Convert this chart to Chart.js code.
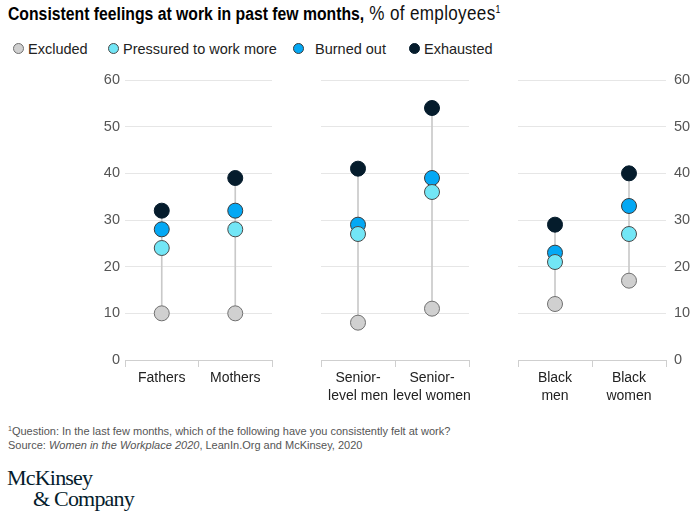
<!DOCTYPE html>
<html>
<head>
<meta charset="utf-8">
<script src="https://cdn.jsdelivr.net/npm/chart.js@4/dist/chart.umd.min.js"></script>
<style>
  html, body { margin: 0; padding: 0; background: #fff; }
  body { width: 700px; height: 517px; position: relative; overflow: hidden; font-family: "Liberation Sans", Arial, sans-serif; }
  #title { position: absolute; left: 8px; top: 2px; font-size: 18px; color: #000; white-space: nowrap; transform: scaleX(0.875); transform-origin: left center; }
  #title b { font-weight: bold; }
  #title .reg { font-size: 19.5px; letter-spacing: 0.4px; color: #111; }
  #title sup { font-size: 10px; vertical-align: 7px; line-height: 0; }
  #legend { position: absolute; left: 0; top: 39px; height: 20px; width: 700px; font-size: 14.5px; color: #222; }
  .li { position: absolute; top: 0; white-space: nowrap; line-height: 20px; }
  .dot { position: absolute; width: 11px; height: 11px; border-radius: 50%; top: 4px; box-sizing: border-box; border: 1px solid #555; }
  .chartbox { position: absolute; top: 60px; height: 350px; }
  #foot { position: absolute; left: 8px; top: 424px; font-size: 11px; color: #555; line-height: 14px; white-space: nowrap; }
  #foot sup { font-size: 7px; vertical-align: 4px; line-height: 0; }
  #logo { position: absolute; left: 7px; top: 467px; font-family: "Liberation Serif", "DejaVu Serif", serif; color: #051c2c; font-size: 22px; line-height: 21px; letter-spacing: -0.8px; }
</style>
</head>
<body>
<div id="title"><b>Consistent feelings at work in past few months,</b><span class="reg"> % of employees</span><sup>1</sup></div>
<div id="legend"></div>
<div class="chartbox" style="left:70px;width:215px"><canvas id="c1"></canvas></div>
<div class="chartbox" style="left:310px;width:172px"><canvas id="c2"></canvas></div>
<div class="chartbox" style="left:505px;width:195px"><canvas id="c3"></canvas></div>
<div id="foot"><sup>1</sup>Question: In the last few months, which of the following have you consistently felt at work?<br>Source: <i>Women in the Workplace 2020</i>, LeanIn.Org and McKinsey, 2020</div>
<div id="logo">McKinsey<br><span style="padding-left:26px">&amp; Company</span></div>
<script>
// ---- Data ----
const seriesNames = ["Excluded", "Pressured to work more", "Burned out", "Exhausted"];
const panel1Labels = ["Fathers", "Mothers"];
const panel2Labels = [["Senior-", "level men"], ["Senior-", "level women"]];
const panel3Labels = [["Black", "men"], ["Black", "women"]];

const excluded1  = [10, 10];
const pressured1 = [24, 28];
const burned1    = [28, 32];
const exhausted1 = [32, 39];

const excluded2  = [8, 11];
const pressured2 = [27, 36];
const burned2    = [29, 39];
const exhausted2 = [41, 54];

const excluded3  = [12, 17];
const pressured3 = [21, 27];
const burned3    = [23, 33];
const exhausted3 = [29, 40];

const yTicks = [0, 10, 20, 30, 40, 50, 60];

// ---- Styles ----
const fills   = ["#d0d0d0", "#72e6f6", "#04a8f4", "#051c2c"];
const borders = ["#707070", "#4a4a4a", "#3a3a3a", "#051c2c"];
const drawOrder = [5, 3, 4, 2];

// Legend
const legendX = [13, 108, 293, 409];
const legend = document.getElementById('legend');
seriesNames.forEach((n, i) => {
  const d = document.createElement('div');
  d.className = 'li';
  d.style.left = legendX[i] + 'px';
  d.innerHTML = '<span class="dot" style="left:0;background:' + fills[i] + ';border-color:' + borders[i] + '"></span><span style="padding-left:' + (i === 2 ? 22 : 15) + 'px">' + n + '</span>';
  legend.appendChild(d);
});

function makeChart(id, labels, series, pos, pad) {
  const [exc, pre, bur, exh] = series;
  const datasets = [];
  datasets.push({
    type: 'bar',
    data: labels.map((_, i) => [Math.min(exc[i], pre[i], bur[i], exh[i]), Math.max(exc[i], pre[i], bur[i], exh[i])]),
    backgroundColor: '#c9c9c9',
    borderWidth: 0,
    barThickness: 1,
    order: 10
  });
  series.forEach((s, k) => {
    datasets.push({
      type: 'line',
      label: seriesNames[k],
      data: s,
      showLine: false,
      pointRadius: 7.5,
      pointHoverRadius: 7.5,
      pointBackgroundColor: fills[k],
      pointBorderColor: borders[k],
      pointBorderWidth: 1,
      order: drawOrder[k]
    });
  });
  const yOpts = {
    type: 'linear',
    min: 0, max: 60,
    position: pos === 'right' ? 'right' : 'left',
    afterBuildTicks: (ax) => { ax.ticks = yTicks.map(v => ({ value: v })); },
    grid: { color: (ctx) => ctx.tick && ctx.tick.value === 0 ? 'rgba(0,0,0,0)' : '#e6e6e6', drawTicks: false, lineWidth: 1 },
    border: { display: false },
    ticks: {
      display: pos !== 'none',
      color: '#555',
      font: { family: 'Liberation Sans, Arial, sans-serif', size: 14.5 },
      padding: pos === 'right' ? 8 : 5
    },
    afterFit: (ax) => { ax.width = pos === 'left' ? 55 : (pos === 'right' ? 34 : 0); }
  };
  return new Chart(document.getElementById(id), {
    data: { labels: labels, datasets: datasets },
    options: {
      responsive: true,
      maintainAspectRatio: false,
      animation: false,
      layout: { padding: pad },
      plugins: { legend: { display: false }, tooltip: { enabled: false } },
      scales: {
        x: {
          type: 'category',
          offset: true,
          grid: { offset: true, drawOnChartArea: false, drawTicks: true, tickLength: 7, color: '#cfcfcf' },
          border: { display: true, color: '#cfcfcf' },
          ticks: { color: '#222', font: { family: 'Liberation Sans, Arial, sans-serif', size: 14, lineHeight: 1.3 }, padding: 2, maxRotation: 0, autoSkip: false },
          afterFit: (ax) => { ax.height = 50; }
        },
        y: yOpts
      }
    }
  });
}

makeChart('c1', panel1Labels, [excluded1, pressured1, burned1, exhausted1], 'left', { top: 20, right: 13, left: 0, bottom: 0 });
makeChart('c2', panel2Labels, [excluded2, pressured2, burned2, exhausted2], 'none', { top: 20, right: 13, left: 11, bottom: 0 });
makeChart('c3', panel3Labels, [excluded3, pressured3, burned3, exhausted3], 'right', { top: 20, right: 0, left: 13, bottom: 0 });
</script>
</body>
</html>
